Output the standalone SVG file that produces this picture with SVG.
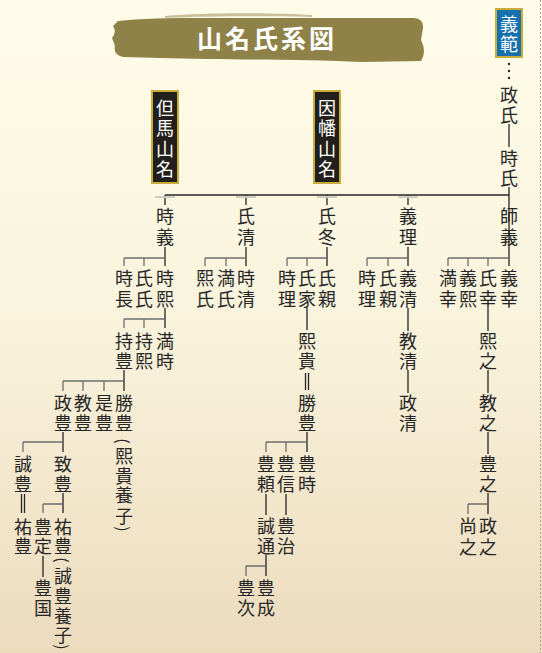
<svg xmlns="http://www.w3.org/2000/svg" width="542" height="653" viewBox="0 0 542 653">
<defs>
<linearGradient id="bg" x1="0" y1="0" x2="0" y2="1">
<stop offset="0" stop-color="#fefce9"/>
<stop offset="0.5" stop-color="#f9f3dc"/>
<stop offset="1" stop-color="#ecdbbd"/>
</linearGradient>
<style>
.t{font-family:"Noto Sans CJK JP","Noto Sans CJK SC",sans-serif;font-size:18px;fill:#262626;text-anchor:middle;dominant-baseline:central}
.p{font-family:"Noto Sans CJK JP",sans-serif;font-size:16px;fill:#262626;text-anchor:middle;dominant-baseline:central}
.w{fill:#ffffff}
.k{fill:none;stroke:#262626;stroke-width:1.3}
.g{fill:none;stroke:#6e6e6e;stroke-width:1.3}
.gb{fill:#cfcdc2}
.bk{fill:#231f1c;stroke:#c9ad3a;stroke-width:2}
</style>
</defs>
<rect width="542" height="653" fill="url(#bg)"/>
<line x1="540.5" y1="0" x2="540.5" y2="653" stroke="#a8a292" stroke-width="1" stroke-dasharray="2 2"/>

<g id="title">
<path d="M118,21 C150,17 205,18 260,18 L414,18 Q424,19 423,28 L421,40 Q427,52 421,61 L362,62 C300,59 222,60 160,58 L123,57 Q113,55 115,46 L112,38 Q117,32 113,26 Z" fill="#8f8249"/>
<path d="M165,16 C210,12 270,13 312,15 L312,17 C270,16 210,16 165,18 Z" fill="#c9c09a"/>
<text x="267" y="37" class="t w" style="font-size:25px;font-weight:700;letter-spacing:3px">山名氏系図</text>
</g>

<g id="connectors">
<path class="k" d="M509,124V147M509,187V266M165,195H509M165,195V205M246,195V205M327,195V205M408,195V205M165,247V266M246,247V266M327,247V266M408,247V266"/>
<rect class="gb" x="155" y="196" width="20" height="2"/>
<rect class="gb" x="236" y="196" width="20" height="2"/>
<rect class="gb" x="317" y="196" width="20" height="2"/>
<rect class="gb" x="398" y="196" width="20" height="2"/>
<path class="g" d="M124,258H165M124,258V266M144,258V266M205,258H246M205,258V266M226,258V266M287,258H327M287,258V266M307,258V266M367,258H408M367,258V266M388,258V266M448,258H509M448,258V266M468,258V266M488,258V266"/>
<path class="k" d="M165,308V328M124,370V391M63,432V452M63,493V513M43,556V577M21.5,494V513M24.5,494V513"/>
<path class="g" d="M124,319H165M124,319V328M144,319V328M63,381H124M63,381V391M83,381V391M104,381V391M23,442H63M23,442V452M43,504H63M43,504V513"/>
<path class="k" d="M307,308V330M305.5,373V390M308.5,373V390M307,432V452M266,494V515M286,494V515M266,555V576"/>
<path class="g" d="M266,442H307M266,442V452M286,442V452M246,566H266M246,566V576"/>
<path class="k" d="M408,308V331M408,370V393M488,308V331M488,370V393M488,432V454M488,493V514"/>
<path class="g" d="M468,504H488M468,504V514"/>
<circle cx="509" cy="64" r="1.2" fill="#262626"/>
<circle cx="509" cy="71" r="1.2" fill="#262626"/>
<circle cx="509" cy="78" r="1.2" fill="#262626"/>
</g>

<g id="n-yoshinori"><rect x="496" y="9" width="26" height="48" fill="#1670ad" stroke="#c9ad3a" stroke-width="2"/><text class="t w"><tspan x="509" y="23">義</tspan><tspan x="509" y="43">範</tspan></text></g>
<g id="n-tajima"><rect class="bk" x="152" y="91" width="26" height="92"/><text class="t w"><tspan x="165" y="107">但</tspan><tspan x="165" y="127">馬</tspan><tspan x="165" y="148">山</tspan><tspan x="165" y="168">名</tspan></text></g>
<g id="n-inaba"><rect class="bk" x="314" y="91" width="26" height="92"/><text class="t w"><tspan x="327" y="107">因</tspan><tspan x="327" y="127">幡</tspan><tspan x="327" y="148">山</tspan><tspan x="327" y="168">名</tspan></text></g>

<g id="n-masauji"><text class="t"><tspan x="509" y="94">政</tspan><tspan x="509" y="114">氏</tspan></text></g>
<g id="n-tokiuji"><text class="t"><tspan x="509" y="157">時</tspan><tspan x="509" y="177">氏</tspan></text></g>

<g id="n-tokiyoshi"><text class="t"><tspan x="165" y="215">時</tspan><tspan x="165" y="236">義</tspan></text></g>
<g id="n-ujikiyo"><text class="t"><tspan x="246" y="215">氏</tspan><tspan x="246" y="236">清</tspan></text></g>
<g id="n-ujifuyu"><text class="t"><tspan x="327" y="215">氏</tspan><tspan x="327" y="236">冬</tspan></text></g>
<g id="n-yoshimasa"><text class="t"><tspan x="408" y="215">義</tspan><tspan x="408" y="236">理</tspan></text></g>
<g id="n-moroyoshi"><text class="t"><tspan x="509" y="215">師</tspan><tspan x="509" y="236">義</tspan></text></g>

<g id="n-tokinaga"><text class="t"><tspan x="124" y="277">時</tspan><tspan x="124" y="298">長</tspan></text></g>
<g id="n-ujiuji"><text class="t"><tspan x="144" y="277">氏</tspan><tspan x="144" y="298">氏</tspan></text></g>
<g id="n-tokihiro"><text class="t"><tspan x="165" y="277">時</tspan><tspan x="165" y="298">熙</tspan></text></g>
<g id="n-hirouji"><text class="t"><tspan x="205" y="277">熙</tspan><tspan x="205" y="298">氏</tspan></text></g>
<g id="n-mitsuuji"><text class="t"><tspan x="226" y="277">満</tspan><tspan x="226" y="298">氏</tspan></text></g>
<g id="n-tokikiyo"><text class="t"><tspan x="246" y="277">時</tspan><tspan x="246" y="298">清</tspan></text></g>
<g id="n-tokimasa1"><text class="t"><tspan x="287" y="277">時</tspan><tspan x="287" y="298">理</tspan></text></g>
<g id="n-ujiie"><text class="t"><tspan x="307" y="277">氏</tspan><tspan x="307" y="298">家</tspan></text></g>
<g id="n-ujichika1"><text class="t"><tspan x="327" y="277">氏</tspan><tspan x="327" y="298">親</tspan></text></g>
<g id="n-tokimasa2"><text class="t"><tspan x="367" y="277">時</tspan><tspan x="367" y="298">理</tspan></text></g>
<g id="n-ujichika2"><text class="t"><tspan x="388" y="277">氏</tspan><tspan x="388" y="298">親</tspan></text></g>
<g id="n-yoshikiyo"><text class="t"><tspan x="408" y="277">義</tspan><tspan x="408" y="298">清</tspan></text></g>
<g id="n-mitsuyuki"><text class="t"><tspan x="448" y="277">満</tspan><tspan x="448" y="298">幸</tspan></text></g>
<g id="n-yoshihiro"><text class="t"><tspan x="468" y="277">義</tspan><tspan x="468" y="298">熙</tspan></text></g>
<g id="n-ujiyuki"><text class="t"><tspan x="488" y="277">氏</tspan><tspan x="488" y="298">幸</tspan></text></g>
<g id="n-yoshiyuki"><text class="t"><tspan x="509" y="277">義</tspan><tspan x="509" y="298">幸</tspan></text></g>

<g id="n-mochitoyo"><text class="t"><tspan x="124" y="340">持</tspan><tspan x="124" y="360">豊</tspan></text></g>
<g id="n-mochihiro"><text class="t"><tspan x="144" y="340">持</tspan><tspan x="144" y="360">熙</tspan></text></g>
<g id="n-mitsutoki"><text class="t"><tspan x="165" y="340">満</tspan><tspan x="165" y="360">時</tspan></text></g>

<g id="n-masatoyo"><text class="t"><tspan x="63" y="402">政</tspan><tspan x="63" y="422">豊</tspan></text></g>
<g id="n-noritoyo"><text class="t"><tspan x="83" y="402">教</tspan><tspan x="83" y="422">豊</tspan></text></g>
<g id="n-koretoyo"><text class="t"><tspan x="104" y="402">是</tspan><tspan x="104" y="422">豊</tspan></text></g>
<g id="n-katsutoyo1"><text class="t"><tspan x="124" y="402">勝</tspan><tspan x="124" y="422">豊</tspan></text><text class="p" x="124" y="441" transform="rotate(90 124 441)">(</text><text class="t"><tspan x="124" y="455">熙</tspan><tspan x="124" y="475">貴</tspan><tspan x="124" y="494">養</tspan><tspan x="124" y="515">子</tspan></text><text class="p" x="124" y="529" transform="rotate(90 124 529)">)</text></g>

<g id="n-nobutoyo"><text class="t"><tspan x="23" y="463">誠</tspan><tspan x="23" y="483">豊</tspan></text></g>
<g id="n-munetoyo"><text class="t"><tspan x="63" y="463">致</tspan><tspan x="63" y="483">豊</tspan></text></g>
<g id="n-suketoyo1"><text class="t"><tspan x="23" y="526">祐</tspan><tspan x="23" y="545">豊</tspan></text></g>
<g id="n-toyosada"><text class="t"><tspan x="43" y="526">豊</tspan><tspan x="43" y="545">定</tspan></text></g>
<g id="n-suketoyo2"><text class="t"><tspan x="63" y="526">祐</tspan><tspan x="63" y="545">豊</tspan></text><text class="p" x="63" y="560" transform="rotate(90 63 560)">(</text><text class="t"><tspan x="63" y="575">誠</tspan><tspan x="63" y="595">豊</tspan><tspan x="63" y="615">養</tspan><tspan x="63" y="634">子</tspan></text><text class="p" x="63" y="647" transform="rotate(90 63 647)">)</text></g>
<g id="n-toyokuni"><text class="t"><tspan x="43" y="587">豊</tspan><tspan x="43" y="607">国</tspan></text></g>

<g id="n-hirotaka"><text class="t"><tspan x="307" y="340">熙</tspan><tspan x="307" y="360">貴</tspan></text></g>
<g id="n-katsutoyo2"><text class="t"><tspan x="307" y="402">勝</tspan><tspan x="307" y="422">豊</tspan></text></g>
<g id="n-toyoyori"><text class="t"><tspan x="266" y="463">豊</tspan><tspan x="266" y="483">頼</tspan></text></g>
<g id="n-toyonobu"><text class="t"><tspan x="286" y="463">豊</tspan><tspan x="286" y="483">信</tspan></text></g>
<g id="n-toyotoki"><text class="t"><tspan x="307" y="463">豊</tspan><tspan x="307" y="483">時</tspan></text></g>
<g id="n-nobumichi"><text class="t"><tspan x="266" y="525">誠</tspan><tspan x="266" y="545">通</tspan></text></g>
<g id="n-toyoharu"><text class="t"><tspan x="286" y="525">豊</tspan><tspan x="286" y="545">治</tspan></text></g>
<g id="n-toyotsugu"><text class="t"><tspan x="246" y="587">豊</tspan><tspan x="246" y="607">次</tspan></text></g>
<g id="n-toyoshige"><text class="t"><tspan x="266" y="587">豊</tspan><tspan x="266" y="607">成</tspan></text></g>

<g id="n-norikiyo"><text class="t"><tspan x="408" y="340">教</tspan><tspan x="408" y="360">清</tspan></text></g>
<g id="n-masakiyo"><text class="t"><tspan x="408" y="402">政</tspan><tspan x="408" y="422">清</tspan></text></g>

<g id="n-hiroyuki"><text class="t"><tspan x="488" y="340">熙</tspan><tspan x="488" y="360">之</tspan></text></g>
<g id="n-noriyuki"><text class="t"><tspan x="488" y="402">教</tspan><tspan x="488" y="422">之</tspan></text></g>
<g id="n-toyoyuki"><text class="t"><tspan x="488" y="463">豊</tspan><tspan x="488" y="483">之</tspan></text></g>
<g id="n-hisayuki"><text class="t"><tspan x="468" y="525">尚</tspan><tspan x="468" y="546">之</tspan></text></g>
<g id="n-masayuki"><text class="t"><tspan x="488" y="525">政</tspan><tspan x="488" y="546">之</tspan></text></g>
</svg>
